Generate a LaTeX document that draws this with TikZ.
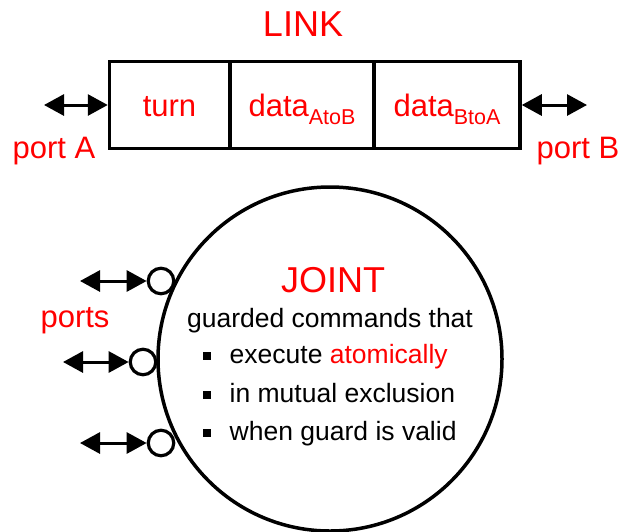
\documentclass[tikz,border=0pt]{standalone}
\usepackage{fontspec}
\setmainfont{Liberation Sans}
\usetikzlibrary{arrows.meta}
\definecolor{labelred}{RGB}{255,0,0}
\tikzset{
  cell/.style={draw, line width=3.5pt, minimum height=87pt, inner sep=0pt,
    text height=22pt, text depth=0pt, text=labelred,
    font=\fontsize{31}{31}\selectfont},
  redlabel/.style={text=labelred, font=\fontsize{31}{31}\selectfont, inner sep=0pt},
  bigtitle/.style={text=labelred, font=\fontsize{36}{36}\selectfont, inner sep=0pt},
  bodytext/.style={font=\fontsize{26.5}{26.5}\selectfont, inner sep=0pt},
  portring/.style={circle, draw, line width=3.2pt, minimum size=25.5pt, inner sep=0pt, fill=white},
  biarrow/.style={line width=3pt, {Triangle[length=20pt,width=21pt]}-{Triangle[length=20pt,width=21pt]}},
}
\newcommand{\sub}[1]{\raisebox{-8pt}{\fontsize{21.5}{21.5}\selectfont #1}}
\newcommand{\bulletsq}{\raisebox{3.5pt}{\rule{7.5pt}{7.5pt}}\hspace{19pt}}
\begin{document}
\begin{tikzpicture}[x=1pt, y=-1pt]
  \useasboundingbox (0,0) rectangle (620,531);

  % ---- LINK: three-cell record with a port on each side ----
  \node[bigtitle, anchor=base] (linktitle) at (303,36) {LINK};
  \node[cell, minimum width=120pt] (turn) at (169.5,105) {turn};
  \node[cell, minimum width=144pt] (ab) at (302,105) {data\sub{AtoB}};
  \node[cell, minimum width=146pt] (ba) at (447,105) {data\sub{BtoA}};

  \coordinate (pa) at (44,105);
  \coordinate (pb) at (587,105);
  \draw[biarrow] (pa) -- (turn.west);
  \draw[biarrow] (ba.east) -- (pb);
  \node[redlabel, anchor=base] (portA) at (54,158) {port A};
  \node[redlabel, anchor=base] (portB) at (578,158) {port B};

  % ---- JOINT: circle with three ports on its left rim ----
  \node[circle, draw, line width=3.5pt, minimum size=344pt, inner sep=0pt] (joint) at (330,359) {};

  \node[portring] (r1) at (161,281) {};
  \node[portring] (r2) at (143,362) {};
  \node[portring] (r3) at (161,443) {};
  \coordinate (s1) at (80,281);
  \coordinate (s2) at (63,362);
  \coordinate (s3) at (80,443);
  \draw[biarrow] (s1) -- (r1.west);
  \draw[biarrow] (s2) -- (r2.west);
  \draw[biarrow] (s3) -- (r3.west);
  \node[redlabel] (ports) at (75,321) {ports};

  \node[bigtitle, anchor=base] (jointtitle) at (333,292) {JOINT};
  \node[bodytext, anchor=base] (gc) at (330,327) {guarded commands that};
  \node[bodytext, anchor=base west] (b1) at (203,363) {\bulletsq execute \textcolor{labelred}{atomically}};
  \node[bodytext, anchor=base west] (b2) at (203,402) {\bulletsq in mutual exclusion};
  \node[bodytext, anchor=base west] (b3) at (203,440) {\bulletsq when guard is valid};
\end{tikzpicture}
\end{document}
